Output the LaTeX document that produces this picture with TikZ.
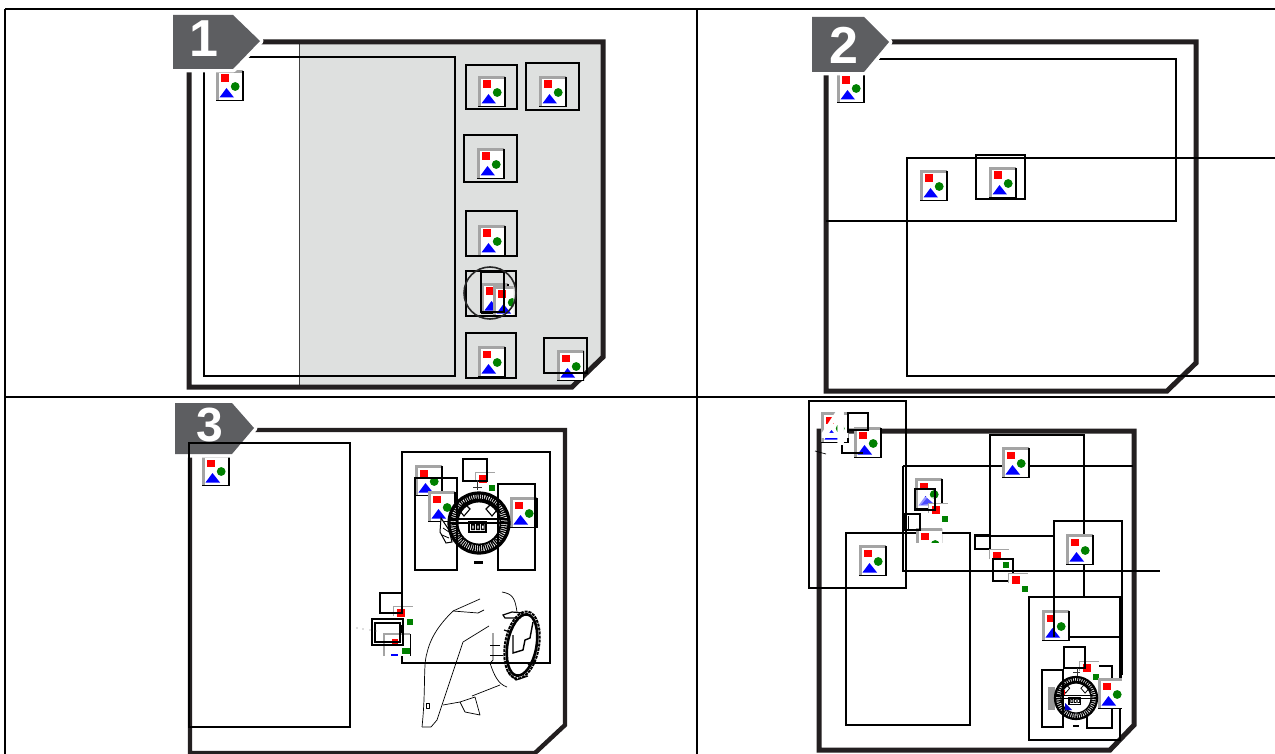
\documentclass[tikz,border=0pt]{standalone}
\usepackage{fontspec}
\setmainfont{Liberation Sans}
\definecolor{badgegray}{HTML}{5D5E61}
\definecolor{panelgray}{HTML}{DEE0DF}
\definecolor{icongray}{HTML}{A4A4A4}
\definecolor{ink}{HTML}{231F20}
\definecolor{iconred}{HTML}{FF0000}
\definecolor{icongreen}{HTML}{008000}
\definecolor{iconblue}{HTML}{0000FF}
\tikzset{
  gridline/.style={draw=black,line width=1.6pt},
  outline/.style={draw=ink,line width=5pt,line join=miter},
  thinbox/.style={draw=black,line width=1.3pt},
  helmet/.style={draw=black,line width=.7pt,line join=round},
  badge/.style={fill=white,draw=white,line width=7pt,line join=round},
  badgecore/.style={fill=badgegray,draw=none},
  badgetext/.style={text=white,font=\bfseries\fontsize{52}{52}\selectfont,inner sep=0pt,anchor=center}
}
\newcommand{\icon}[2]{%
  \begin{scope}[shift={(#1,#2)}]
    \fill[white] (0,0) rectangle (27,31);
    \draw[icongray,line width=2.6pt] (1.3,31) -- (1.3,1.3) -- (27,1.3);
    \draw[black,line width=1.2pt] (27,1) -- (27,30.4) -- (0,30.4);
    \fill[iconred] (5,4.5) rectangle (12.8,12.2);
    \fill[iconblue] (3.5,27.5) -- (10.5,18) -- (18,27.5) -- cycle;
    \fill[icongreen] (19.2,16.5) circle (4.4);
  \end{scope}}
\newcommand{\parti}[4]{%
  \begin{scope}
    \clip (#1,#2) rectangle ++(#3,#4);
    \icon{#1}{#2}
  \end{scope}}
\newcommand{\tinyicon}[2]{%
  \begin{scope}[shift={(#1,#2)}]
    \fill[white] (0,0) rectangle (20,19);
    \draw[icongray,line width=1.2pt] (.6,10) -- (.6,.6) -- (20,.6);
    \fill[iconred] (4,3) rectangle (11.5,10.5);
    \fill[icongreen] (14,13) rectangle (20,19);
  \end{scope}}
\newcommand{\medal}[3]{%
  \begin{scope}[shift={(#1,#2)},scale=#3]
    \fill[white] (0,0) circle (31);
    \draw[black,line width=#3*3.2pt] (0,0) circle (30);
    \draw[black,line width=#3*7pt,dash pattern=on 1.2pt off .9pt] (0,0) circle (25.5);
    \draw[black,line width=#3*1.8pt] (0,0) circle (21.5);
    \draw[black,line width=#3*3pt] (0,0) ++(205:23) arc (205:335:23);
    \draw[black,line width=#3*1.3pt] (-31,-4) -- (31,-4) (-31,0) -- (31,0);
    \draw[black,line width=#3*1.6pt] (-10,-1) rectangle (7,9);
    \draw[black,line width=#3*1.1pt] (-15,-20) -- (-20,-13) -- (-15,-7) -- (-9,-14) -- cycle
      (13,-20) -- (18,-13) -- (13,-7) -- (7,-14) -- cycle;
    \fill[black] (-8,1) rectangle (-4,7) (-3,1) rectangle (1,7) (2,1) rectangle (5.5,7);
    \fill[white] (-6.7,2.5) rectangle (-5.3,5.5) (-1.7,2.5) rectangle (-.3,5.5) (3,2.5) rectangle (4.5,5.5);
  \end{scope}}
\begin{document}
\begin{tikzpicture}[x=1pt,y=-1pt]
\useasboundingbox (0,0) rectangle (1275,754);
\fill[white] (0,0) rectangle (1275,754);

% ---- panel 1
\fill[panelgray] (299,42) -- (603,42) -- (603,357) -- (572,387) -- (299,387) -- cycle;
\draw[black!75,line width=1pt] (299,42) -- (299,387);
\draw[outline] (189,42) -- (603,42) -- (603,357) -- (572,387) -- (189,387) -- cycle;
\draw[thinbox] (204,57) rectangle (455,376);
\icon{216}{70}
\icon{478}{76}
\icon{539}{76}
\icon{477}{148}
\icon{478}{225}
\icon{481}{283}
\parti{493}{286}{20.5}{31}
\icon{478}{346}
\parti{557}{350}{27}{31}
\draw[thinbox] (466,65) rectangle (517,109);
\draw[thinbox] (526,63) rectangle (579,110);
\draw[thinbox] (464,135) rectangle (517,182);
\draw[thinbox] (466,211) rectangle (517,256);
\draw[thinbox] (466,271) rectangle (516,316);
\draw[thinbox] (481,272) rectangle (504,312);
\draw[black!85,line width=1.6pt] (490,293) circle (26);
\draw[thinbox] (466,333) rectangle (516,378);
\draw[thinbox] (544,338) rectangle (587,373);
\draw[badge] (173,15) -- (233,15) -- (260,41) -- (233,69) -- (173,69) -- cycle;
\fill[badgecore] (173,15) -- (233,15) -- (260,41) -- (233,69) -- (173,69) -- cycle;
\node[badgetext] (n1) at (204,38.5) {1};

% ---- panel 2
\draw[outline] (826,42) -- (1196,42) -- (1196,363) -- (1167,391) -- (826,391) -- cycle;
\icon{837}{72}
\icon{920}{170}
\icon{989}{167}
\draw[thinbox] (860,59) -- (1176,59) -- (1176,221) -- (826,221);
\draw[thinbox] (1275,158) -- (907,158) -- (907,376) -- (1275,376);
\draw[thinbox] (976,155) rectangle (1025,199);
\draw[badge] (812,17) -- (864,17) -- (889,42) -- (864,72) -- (812,72) -- cycle;
\fill[badgecore] (812,17) -- (864,17) -- (889,42) -- (864,72) -- (812,72) -- cycle;
\node[badgetext] (n2) at (843.5,45) {2};

% ---- panel 3
\draw[outline,line width=4.4pt] (190,430) -- (565,430) -- (565,725) -- (535,753) -- (190,753) -- cycle;
\icon{202}{455}
\draw[thinbox] (402,452) rectangle (550,663);
\icon{415}{465}
\icon{428}{491}
\icon{510}{497}
\tinyicon{475}{472}
\draw[black,line width=1pt,fill=white] (441,518) -- (449,530) -- (452,542) -- (446,543) -- (440,532) -- cycle;
\draw[black,line width=.8pt] (443,528) -- (449,532) (442,535) -- (449,538);
\medal{479}{523}{1}
\draw[thinbox] (415,478) rectangle (457,570);
\draw[thinbox] (498,484) rectangle (535,570);
\draw[thinbox] (463,459) rectangle (487,481);
\draw[black!80,line width=1pt] (477,480) -- (477,490) (473,487) -- (482,487);
\fill[black] (474,561) rectangle (483,564);
% helmet
\draw[helmet] (422,727) .. controls (426,690) and (423,665) .. (427,653) .. controls (431,635) and (442,622) .. (453,611) -- (480,599);
\draw[helmet] (453,611) -- (478,613) -- (484,610);
\draw[helmet] (422,727) -- (431,727) -- (437,720) -- (463,642) -- (489,626);
\draw[helmet] (443,705) -- (460,702) -- (475,697) -- (480,715) -- (465,712) -- (460,702);
\draw[helmet] (472,696) -- (500,685);
\draw[helmet] (502,592) .. controls (512,594) and (515,597) .. (517,612);
\draw[helmet] (493,633) -- (493,660) -- (490,663) .. controls (494,675) and (498,684) .. (507,687);
\draw[helmet] (490,645) -- (500,645) (490,655) -- (503,655);
\draw[helmet] (426,703) rectangle (429,708);
\draw[black,line width=2.6pt,rotate around={-10:(522,645)}] (522,645) ellipse (14.5 and 31);
\draw[black,line width=2pt,dash pattern=on 3pt off 1pt,rotate around={-10:(522,645)}] (522,645) ellipse (17 and 34);
\draw[black,line width=1.4pt] (513,635) -- (513,653) -- (523,650) -- (525,640) -- (530,638) -- (533,622);
\draw[black,line width=1.2pt] (503,615) -- (512,612) -- (523,613) -- (520,618) -- (505,618) -- cycle;
\draw[black,line width=1.2pt] (504,630) -- (510,632) (528,665) -- (535,660) (508,672) -- (516,680) -- (528,676);
\draw[thinbox] (490,663) -- (550,663) -- (550,620);
\tinyicon{393}{606}
\begin{scope}
  \fill[white] (383,633) rectangle (410,656);
  \draw[icongray,line width=1.2pt] (384,656) -- (384,634) -- (410,634);
  \fill[iconred] (392,639) rectangle (398,646);
  \fill[icongreen] (402,648) rectangle (410,654);
  \fill[iconblue] (391,654) rectangle (398,656);
  \draw[black,line width=.9pt] (410,634) -- (410,656);
\end{scope}
\draw[black,line width=1.3pt] (380,593) rectangle (402,613);
\draw[black,line width=1.1pt] (372,619) rectangle (403,645);
\draw[black,line width=1.1pt] (375,623) rectangle (400,642);
\foreach \i/\px/\py in {a/357/628,b/363/629,c/370/630,d/376/631} {\coordinate (dot\i) at (\px,\py); \fill[black!55] (dot\i) circle (.6);}
\draw[badge] (175,403) -- (232,403) -- (254,428) -- (232,454) -- (175,454) -- cycle;
\fill[badgecore] (175,403) -- (232,403) -- (254,428) -- (232,454) -- (175,454) -- cycle;
\node[badgetext,font=\bfseries\fontsize{48}{48}\selectfont] (n3) at (209.5,425) {3};
\draw[thinbox] (189,458) -- (189,443) -- (350,443) -- (350,727) -- (189,727) -- cycle;

% ---- panel 4
\draw[ink,line width=5pt] (819,431) -- (1134,431) -- (1134,725) -- (1110,750) -- (819,750) -- cycle;
\draw[thinbox] (809,401) rectangle (906,588);
\icon{821}{412}
\node[badgetext,font=\bfseries\fontsize{50}{50}\selectfont] (n4) at (835.5,428) {4};
\draw[black,line width=.7pt] (815,451) -- (826,454);
\icon{854}{427}
\draw[thinbox] (848,413) rectangle (868,430);
\draw[black,line width=1.1pt] (842,445) -- (842,453) -- (863,453);
\fill[black] (848,439) rectangle (849,443);
\draw[thinbox] (846,533) rectangle (970,725);
\icon{859}{545}
\draw[thinbox] (903,466) -- (1133,466);
\draw[thinbox] (903,466) -- (903,571) -- (1160,571);
\icon{915}{478}
\fill[white,opacity=.6] (918,497) rectangle (934,508);
\fill[iconblue!70] (921,505) -- (927,498) -- (933,503) -- cycle;
\tinyicon{928}{503}
\draw[black,line width=1.3pt] (915,489) rectangle (935,510);
\begin{scope}
  \clip (915,525) rectangle (942,542);
  \icon{916}{528}
\end{scope}
\draw[black,line width=1.3pt] (905,514) rectangle (920,530);
\draw[black,line width=.8pt] (908,516) -- (908,530);
\draw[thinbox] (990,466) -- (990,435) -- (1084,435) -- (1084,597);
\icon{1002}{447}
\draw[thinbox] (975,536) -- (1054,536);
\draw[thinbox] (990,536) -- (990,466);
\icon{1066}{534}
\draw[thinbox] (1054,597) -- (1054,521) -- (1122,521) -- (1122,680);
\draw[thinbox] (1054,637) -- (1122,637);
\draw[black,line width=1.3pt] (975,535) rectangle (990,549);
\tinyicon{989}{549}
\draw[black,line width=1.3pt] (993,559) rectangle (1013,581);
\tinyicon{1008}{573}
\draw[thinbox] (1029,597) rectangle (1120,740);
\icon{1042}{610}
\draw[thinbox] (1054,597) -- (1054,637);
\draw[thinbox] (1042,670) rectangle (1063,727);
\draw[thinbox] (1095,666) -- (1112,666) -- (1112,728) -- (1087,728) -- (1087,715);
\tinyicon{1079}{661}
\draw[black,line width=1.3pt] (1064,647) rectangle (1085,668);
\draw[black!80,line width=1pt] (1077,668) -- (1077,677) (1073,672) -- (1080,672);
\icon{1098}{678}
\fill[white] (1122,675) rectangle (1127,712);
\fill[black!40] (1048,687) rectangle (1055,710);
\medal{1076}{698}{.7}
\fill[iconred] (1062,690) rectangle (1065,695);
\fill[iconblue!80!black] (1065,703) -- (1072,710) -- (1065,710) -- cycle;
\draw[thinbox] (1063,670) -- (1063,727);
\fill[black] (1073,725) rectangle (1079,727);

% ---- table grid
\draw[gridline] (5,9) -- (1275,9);
\draw[gridline] (5,397) -- (1275,397);
\draw[gridline] (5,9) -- (5,754);
\draw[gridline] (697,9) -- (697,754);
\end{tikzpicture}
\end{document}
